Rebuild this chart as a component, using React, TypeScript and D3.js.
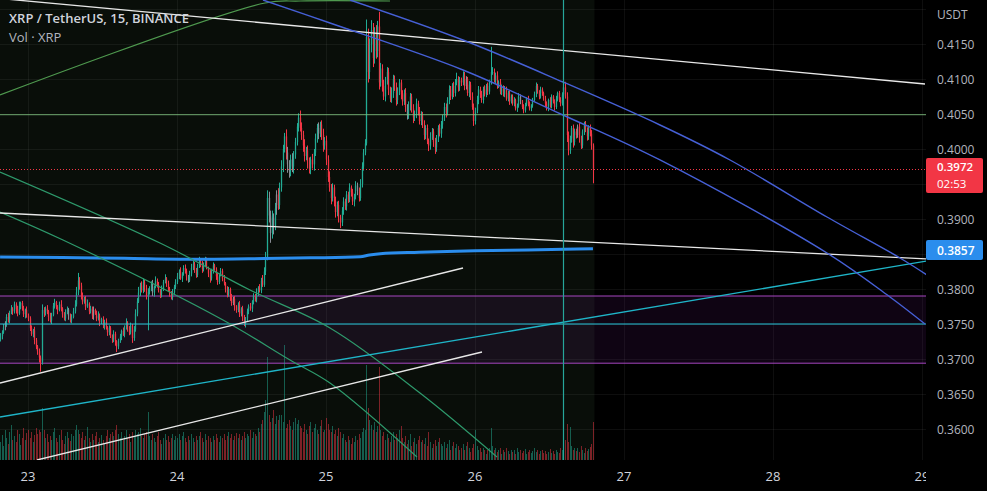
import React from 'react';
import * as d3 from 'd3';

const W = 987;
const H = 491;
const PLOT_W = 926;
const PLOT_H = 460;

const dayTicks = [23, 24, 25, 26, 27, 28, 29];
const priceTicks = [0.415, 0.41, 0.405, 0.4, 0.39, 0.38, 0.375, 0.37, 0.365, 0.36];
const gridPrices = [0.42, 0.415, 0.41, 0.405, 0.4, 0.395, 0.39, 0.385, 0.38, 0.375, 0.37, 0.365, 0.36, 0.355];

const firstTime = 22.8125; // day-of-month, 15-minute bars
const barStep = 1 / 96;
const firstOpen = 3728; // in 0.0001 USDT
const lastPrice = 0.3972;
const countdown = '02:53';
const maLast = 0.3857;

const closes = [
  3733,3738,3745,3752,3760,3755,3766,3772,3768,3778,3771,3765,3776,3780,3772,3764,3770,3762,3758,
  3744,3736,3741,3727,3718,3711,3702,3696,
  3770,
  3765,3772,3768,3760,3755,3763,3776,3781,3774,3770,3778,3772,3764,3758,3766,3771,3762,3755,3760,3768,3778,
  3795,3812,3805,3790,
  3782,3786,3775,3779,3768,3772,3762,3770,3765,3758,3762,3752,3757,3748,3753,3745,3738,3744,3733,3728,3736,3725,3718,
  3726,3732,3740,3735,3745,3752,3744,3738,3748,3730,3742,
  3765,3782,3795,3805,3798,3810,3802,3790,3796,
  3800,3808,3795,3803,3812,3806,3798,3792,3800,3810,3815,3808,3800,3795,3788,3795,3803,3810,
  3818,3825,3815,3822,3830,3826,3818,3812,3822,3830,3836,3828,3820,
  3832,3840,3835,3828,3836,3842,3830,3822,3815,3826,3834,3828,3818,3810,3820,3826,
  3815,3808,3800,3792,3800,3788,3780,3786,3775,3770,3778,3765,3772,3760,3752,3758,
  3768,3775,3772,3782,3790,3785,3795,3802,3798,3812,3806,
  3825,3845,3930,3905,3880,3902,3890,3915,3935,3920,3945,
  3975,4000,4018,3995,3978,3968,3985,3975,3992,4010,4032,4045,4030,
  4020,4005,3990,3998,3982,3972,3985,3978,3995,4015,4030,4022,4035,4020,4005,4012,
  3985,3960,3945,3930,3945,3925,3910,3920,3902,3895,3912,3925,3918,
  3935,3928,3945,3938,3925,3932,3948,3940,3930,3950,3975,3995,4008,
  4160,
  4110,4150,4170,4130,4165,4140,4175,4095,
  4115,4090,4075,4098,4110,4085,4072,4080,4100,4088,4070,4082,4095,4078,
  4068,4080,4060,4048,4062,4075,4058,4045,4050,4065,4055,4040,4048,
  4035,4020,4030,4012,4005,4018,4025,4010,4002,4015,4030,4022,4035,
  4045,4060,4052,4070,4085,4075,4090,4080,4095,4100,4088,4098,
  4095,4105,4090,4100,4080,4092,4075,4060,4040,4055,4070,4085,4078,
  4070,4085,4078,4090,4082,4095,4110,
  4110,4098,4105,4090,4095,4082,4088,4078,4085,4072,4080,4068,4075,
  4065,4070,4058,4062,4075,4068,4060,4055,4063,4072,4065,4058,4062,4070,4078,4090,4082,4075,4085,
  4080,4072,4065,4058,4070,4062,4075,4068,4060,4072,4080,4070,4065,4078,4088,4075,
  4020,3998,4015,4030,4010,4025,
  4020,4032,4015,4005,4025,4035,4028,4018,4030,4022,
  4005,3972,
];

const upperWicks = [
  4,3,5,2,4,6,3,5,2,4,3,5,6,2,3,4,2,5,3,
  3,4,2,5,3,2,4,3,
  8,
  4,3,5,2,6,3,4,5,2,3,4,6,2,3,5,4,2,3,4,5,6,
  8,11,5,4,
  5,3,4,6,2,4,3,5,2,4,6,3,2,4,3,5,2,4,3,2,5,3,2,
  3,4,2,5,3,6,2,3,4,2,5,
  6,5,8,4,6,5,3,4,5,
  4,3,5,2,6,3,4,2,5,3,6,2,4,3,2,5,3,4,
  5,3,6,2,4,5,3,2,4,6,5,3,2,
  4,6,3,5,2,4,3,2,5,3,4,2,3,5,2,4,
  3,5,2,4,3,2,5,3,4,2,3,5,2,4,3,2,
  4,3,5,2,4,3,6,2,5,4,8,
  6,8,11,9,7,10,6,8,6,9,7,
  9,6,5,10,8,6,7,9,5,6,5,6,10,
  8,6,9,5,7,6,4,8,5,7,6,8,4,6,9,5,
  7,6,8,5,6,4,7,5,6,4,5,6,4,
  5,4,6,3,5,4,6,4,5,7,6,5,6,
  25,
  12,8,14,10,9,12,8,21,
  8,6,9,5,7,6,4,8,6,5,7,6,5,4,
  6,5,7,4,6,5,4,6,5,7,4,5,6,
  5,6,4,5,3,6,5,4,6,5,4,6,5,
  4,6,5,4,6,5,4,6,5,9,4,5,
  4,6,5,4,3,5,4,6,5,4,6,5,4,
  5,4,6,3,5,4,36,
  7,5,4,6,3,5,4,3,5,4,3,4,3,
  3,4,2,3,5,3,2,4,3,2,4,3,2,3,4,5,3,2,4,
  3,2,4,3,2,4,3,2,3,4,2,3,4,3,5,8,
  6,5,4,3,5,4,
  4,3,5,4,3,4,5,3,4,5,
  5,3,
];

const lowerWicks = [
  3,5,2,4,6,3,4,2,5,3,6,4,2,5,3,4,6,3,4,
  4,3,5,6,4,5,7,14,
  4,
  5,3,4,6,3,5,2,4,3,6,2,4,5,3,4,2,6,3,4,2,3,
  3,4,6,5,
  4,3,5,2,4,3,5,6,2,4,3,5,2,4,6,3,5,4,3,5,4,6,8,
  4,3,5,2,4,3,5,4,3,7,4,
  3,4,2,5,3,4,6,5,49,
  4,3,5,6,2,4,3,5,4,3,2,5,4,6,3,4,2,3,
  3,4,2,5,3,4,6,3,2,4,3,5,4,
  3,2,4,5,3,4,2,5,6,3,4,2,5,4,3,2,
  4,3,5,4,3,5,4,3,6,4,3,5,4,6,5,7,
  5,4,3,5,4,3,4,5,3,4,3,
  3,5,4,10,14,8,12,6,9,7,6,
  6,8,5,10,12,9,7,8,10,6,5,7,5,
  7,9,8,6,10,7,8,6,9,5,6,8,5,7,9,6,
  8,7,6,9,5,7,8,6,7,8,5,6,5,
  6,5,4,6,5,7,4,6,5,4,5,6,4,
  3,
  15,10,12,13,8,11,9,10,
  6,8,5,7,6,8,5,6,7,5,8,6,5,7,
  6,5,7,6,5,7,6,8,5,6,7,5,6,
  5,7,6,5,8,6,5,7,9,6,5,4,6,
  6,5,7,4,6,5,4,6,5,4,6,5,
  5,4,6,5,4,6,5,4,7,5,4,6,5,
  4,5,3,4,5,4,3,
  4,3,5,4,3,4,5,3,4,3,4,5,3,
  3,4,3,5,3,4,3,4,3,2,4,3,4,3,2,4,3,4,3,
  4,3,5,3,4,3,4,3,5,3,4,3,4,3,4,3,
  10,7,5,6,8,5,
  5,4,6,5,4,5,4,6,5,4,
  6,21,
];

// volume in 100k XRP
const volumes = [
  18,25,14,30,22,16,28,35,20,24,18,30,26,15,22,32,20,27,30,
  22,28,18,25,32,26,30,28,
  52,
  30,22,26,18,24,20,28,32,22,18,25,30,20,16,24,28,22,19,26,24,30,
  35,30,26,22,
  28,20,24,33,22,18,26,20,24,28,18,22,25,20,16,24,30,22,26,28,24,30,35,
  26,22,28,20,24,30,22,26,18,28,24,
  30,26,28,32,24,22,26,28,48,
  24,20,26,22,18,24,28,20,16,22,26,20,24,18,22,26,20,24,
  22,26,20,24,28,22,18,24,20,26,22,18,24,
  20,24,28,22,18,26,20,24,22,18,24,20,26,22,18,24,
  22,26,20,24,28,22,26,20,24,27,22,26,20,24,28,22,
  26,24,30,22,28,26,24,32,28,36,40,
  48,60,103,45,38,42,50,36,44,40,45,
  45,38,115,32,36,40,34,30,38,42,36,40,34,
  32,28,36,30,26,34,38,28,32,36,30,26,34,40,28,30,
  42,36,30,28,34,26,30,24,32,28,22,26,20,
  18,24,20,16,22,18,24,20,26,22,28,32,30,
  95,
  52,40,35,30,38,28,34,93,
  30,24,28,20,26,22,18,24,28,20,26,22,30,34,
  22,18,24,16,20,26,14,18,22,16,20,24,18,
  20,16,22,14,28,18,12,16,20,14,18,22,16,
  14,18,12,16,20,10,14,18,12,16,14,10,
  12,16,10,14,18,12,8,12,16,30,14,10,12,
  8,12,10,6,10,12,32,
  14,10,12,8,10,12,6,10,8,12,9,6,10,
  8,10,6,12,8,10,7,9,11,6,8,10,7,9,12,8,10,6,9,
  10,7,9,6,8,11,7,9,6,10,8,7,12,10,14,20,
  36,18,33,14,10,12,
  9,12,8,14,10,7,12,9,11,13,
  16,38,
];

const grayBars = [3, 44, 60, 98, 121, 150, 173, 174, 176, 178, 185, 186, 188, 205, 230, 262, 300, 335, 372];

// moving average (bar index, value)
const maIdx = [0, 40, 80, 129, 170, 200, 232, 238, 245, 270, 306, 340, 363, 382];
const maVal = [0.38457, 0.3845, 0.38438, 0.38425, 0.38435, 0.38445, 0.3846, 0.38485, 0.38505, 0.38525, 0.38547, 0.38558, 0.38567, 0.38575];

// drawings, [day, price]
const whiteLines = [
  [[22.8121, 0.4215], [29.0201, 0.409286]],
  [[22.8121, 0.390857], [29.0336, 0.384286]],
  [[22.8121, 0.366571], [25.9195, 0.383]],
  [[23.0604, 0.355571], [26.047, 0.371]],
];
const cyanTrend = [[22.8121, 0.361714], [29.0336, 0.384]];
const blueArcLower = [[24.5772, 0.421286], [25.0268, 0.418], [25.9195, 0.411286], [26.5906, 0.404857], [27.2416, 0.398429], [28.3624, 0.385143], [28.7852, 0.378857], [29.0201, 0.375]];
const blueArcUpper = [[25.1611, 0.421286], [25.9195, 0.415571], [26.5906, 0.409571], [27.2416, 0.403429], [27.7114, 0.398429], [28.3624, 0.390286], [28.8523, 0.384429], [29.0336, 0.382]];
const greenArc1 = [[22.8121, 0.396714], [23.8859, 0.386571], [24.4899, 0.379857], [25.0268, 0.374429], [25.6309, 0.365143], [26.1477, 0.356]];
const greenArc2 = [[22.8121, 0.391], [23.2349, 0.387], [24.3087, 0.375571], [24.7584, 0.369857], [25.0268, 0.366571], [25.6107, 0.356]];
const greenTop = [[22.8121, 0.407714], [24.5906, 0.420857], [24.8255, 0.421143], [25.4295, 0.421143]];
const greenLevel = 0.4049;
const cyanLevel = 0.375;
const purpleZone = [0.379, 0.3694];
const markerDay = 26.59375;

const UP = '#22ab94';
const DOWN = '#f23645';
const GRAY = '#8a8d96';
const FONT = '"Open Sans", Roboto, sans-serif';

export default function App() {
  const x = d3.scaleLinear().domain([23, 29]).range([28, 922]);
  const y = d3.scaleLinear().domain([0.4, 0.36]).range([149, 429]);
  const yv = d3.scaleLinear().domain([0, 100]).range([PLOT_H, PLOT_H - 100]);

  const candles = closes.map((c, i) => {
    const o = i === 0 ? firstOpen : closes[i - 1];
    const hi = Math.max(o, c) + (upperWicks[i] ?? 3);
    const lo = Math.min(o, c) - (lowerWicks[i] ?? 3);
    return {
      t: firstTime + i * barStep,
      o: o / 10000,
      c: c / 10000,
      h: hi / 10000,
      l: lo / 10000,
      v: volumes[i] ?? 10,
      gray: grayBars.includes(i),
    };
  });
  const dataEndX = x(candles[candles.length - 1].t) + 1.5;

  const pathGen = d3
    .line<number[]>()
    .x((d) => x(d[0]))
    .y((d) => y(d[1]))
    .curve(d3.curveCatmullRom);
  const straight = d3
    .line<number[]>()
    .x((d) => x(d[0]))
    .y((d) => y(d[1]));
  const maLine = d3
    .line<number>()
    .x((_, k) => x(firstTime + maIdx[k] * barStep))
    .y((d) => y(d))
    .curve(d3.curveMonotoneX);

  return (
    <svg
      width={W}
      height={H}
      style={{ position: 'fixed', left: 0, top: 0, background: '#000', display: 'block' }}
    >
      <defs>
        <clipPath id="plot">
          <rect x={0} y={0} width={PLOT_W} height={PLOT_H} />
        </clipPath>
        <clipPath id="timeaxis">
          <rect x={0} y={PLOT_H} width={PLOT_W} height={H - PLOT_H} />
        </clipPath>
      </defs>
      <rect x={0} y={0} width={W} height={H} fill="#000" />
      <g clipPath="url(#plot)">
        <rect x={0} y={0} width={dataEndX} height={PLOT_H} fill="#090e09" />
        {/* grid */}
        {gridPrices.map((p) => (
          <line key={'gp' + p} x1={0} x2={PLOT_W} y1={Math.round(y(p)) + 0.5} y2={Math.round(y(p)) + 0.5} stroke="rgba(255,255,255,0.055)" />
        ))}
        {dayTicks.map((d) => (
          <line key={'gd' + d} x1={Math.round(x(d)) + 0.5} x2={Math.round(x(d)) + 0.5} y1={0} y2={PLOT_H} stroke="rgba(255,255,255,0.055)" />
        ))}
        {/* purple zone */}
        <rect x={0} width={PLOT_W} y={y(purpleZone[0])} height={y(purpleZone[1]) - y(purpleZone[0])} fill="rgba(140,40,170,0.11)" />
        <line x1={0} x2={PLOT_W} y1={y(purpleZone[0])} y2={y(purpleZone[0])} stroke="#a646c0" strokeWidth={1} />
        <line x1={0} x2={PLOT_W} y1={y(purpleZone[1])} y2={y(purpleZone[1])} stroke="#a646c0" strokeWidth={1} />
        {/* volume */}
        {candles.map((d, i) => {
          const cx = Math.round(x(d.t));
          const col = d.c >= d.o ? 'rgba(34,171,148,0.5)' : 'rgba(242,54,69,0.5)';
          return <rect key={'v' + i} x={cx} width={1} y={yv(d.v)} height={PLOT_H - yv(d.v)} fill={col} />;
        })}
        {/* candles */}
        {candles.map((d, i) => {
          const cx = Math.round(x(d.t)) + 0.5;
          const col = d.gray ? GRAY : d.c >= d.o ? UP : DOWN;
          const top = y(Math.max(d.o, d.c));
          const bot = y(Math.min(d.o, d.c));
          return (
            <g key={'c' + i}>
              <line x1={cx} x2={cx} y1={y(d.h)} y2={y(d.l)} stroke={col} strokeWidth={1} />
              <rect x={cx - 0.65} width={1.3} y={top} height={Math.max(1, bot - top)} fill={col} />
            </g>
          );
        })}
        {/* moving average */}
        <path d={maLine(maVal) || ''} fill="none" stroke="#2b8ded" strokeWidth={3} />
        {/* drawings */}
        <line x1={0} x2={PLOT_W} y1={y(greenLevel)} y2={y(greenLevel)} stroke="#7fbf7f" strokeOpacity={0.85} strokeWidth={1} />
        <line x1={0} x2={PLOT_W} y1={y(cyanLevel)} y2={y(cyanLevel)} stroke="#26c6da" strokeWidth={1} />
        <path d={pathGen(greenTop) || ''} fill="none" stroke="#4f9a4f" strokeWidth={1.2} />
        <path d={pathGen(greenArc1) || ''} fill="none" stroke="#2e9a6c" strokeWidth={1.2} />
        <path d={pathGen(greenArc2) || ''} fill="none" stroke="#2e9a6c" strokeWidth={1.2} />
        <path d={straight(cyanTrend) || ''} fill="none" stroke="#1fb5c8" strokeWidth={1.3} />
        {whiteLines.map((l, k) => (
          <path key={'w' + k} d={straight(l) || ''} fill="none" stroke="#e8e8e8" strokeWidth={1.3} />
        ))}
        <path d={pathGen(blueArcLower) || ''} fill="none" stroke="#4660d6" strokeWidth={1.4} />
        <path d={pathGen(blueArcUpper) || ''} fill="none" stroke="#4660d6" strokeWidth={1.4} />
        <line x1={Math.round(x(markerDay)) + 0.5} x2={Math.round(x(markerDay)) + 0.5} y1={0} y2={PLOT_H} stroke="#26a69a" strokeWidth={1.2} />
        {/* last price line */}
        <line x1={0} x2={PLOT_W} y1={Math.round(y(lastPrice)) + 0.5} y2={Math.round(y(lastPrice)) + 0.5} stroke={DOWN} strokeDasharray="1,2" strokeWidth={1} />
      </g>
      {/* legend */}
      <text x={9} y={23} fill="#d1d4dc" fontFamily={FONT} fontSize={13} fontWeight={600}>
        XRP / TetherUS, 15, BINANCE
      </text>
      <text x={9} y={42} fill="#b2b5be" fontFamily={FONT} fontSize={13}>
        Vol · XRP
      </text>
      {/* price axis */}
      <text x={937} y={19} fill="#b2b5be" fontFamily={FONT} fontSize={12}>USDT</text>
      {priceTicks.map((p) => (
        <text key={'pt' + p} x={937} y={y(p) + 4.5} fill="#b2b5be" fontFamily={FONT} fontSize={12}>
          {p.toFixed(4)}
        </text>
      ))}
      <rect x={926} y={158} width={57} height={35} rx={2} fill={DOWN} />
      <text x={937} y={171} fill="#fff" fontFamily={FONT} fontSize={11.5} fontWeight={600}>{lastPrice.toFixed(4)}</text>
      <text x={937} y={188} fill="#fff" fontFamily={FONT} fontSize={11.5}>{countdown}</text>
      <rect x={926} y={240} width={57} height={20} rx={2} fill="#2b8ded" />
      <text x={937} y={254.5} fill="#fff" fontFamily={FONT} fontSize={12} fontWeight={600}>{maLast.toFixed(4)}</text>
      {/* time axis */}
      <g clipPath="url(#timeaxis)">
        {dayTicks.map((d) => (
          <text key={'dt' + d} x={x(d)} y={481} textAnchor="middle" fill="#d1d4dc" fontFamily={FONT} fontSize={13}>
            {d}
          </text>
        ))}
      </g>
    </svg>
  );
}
